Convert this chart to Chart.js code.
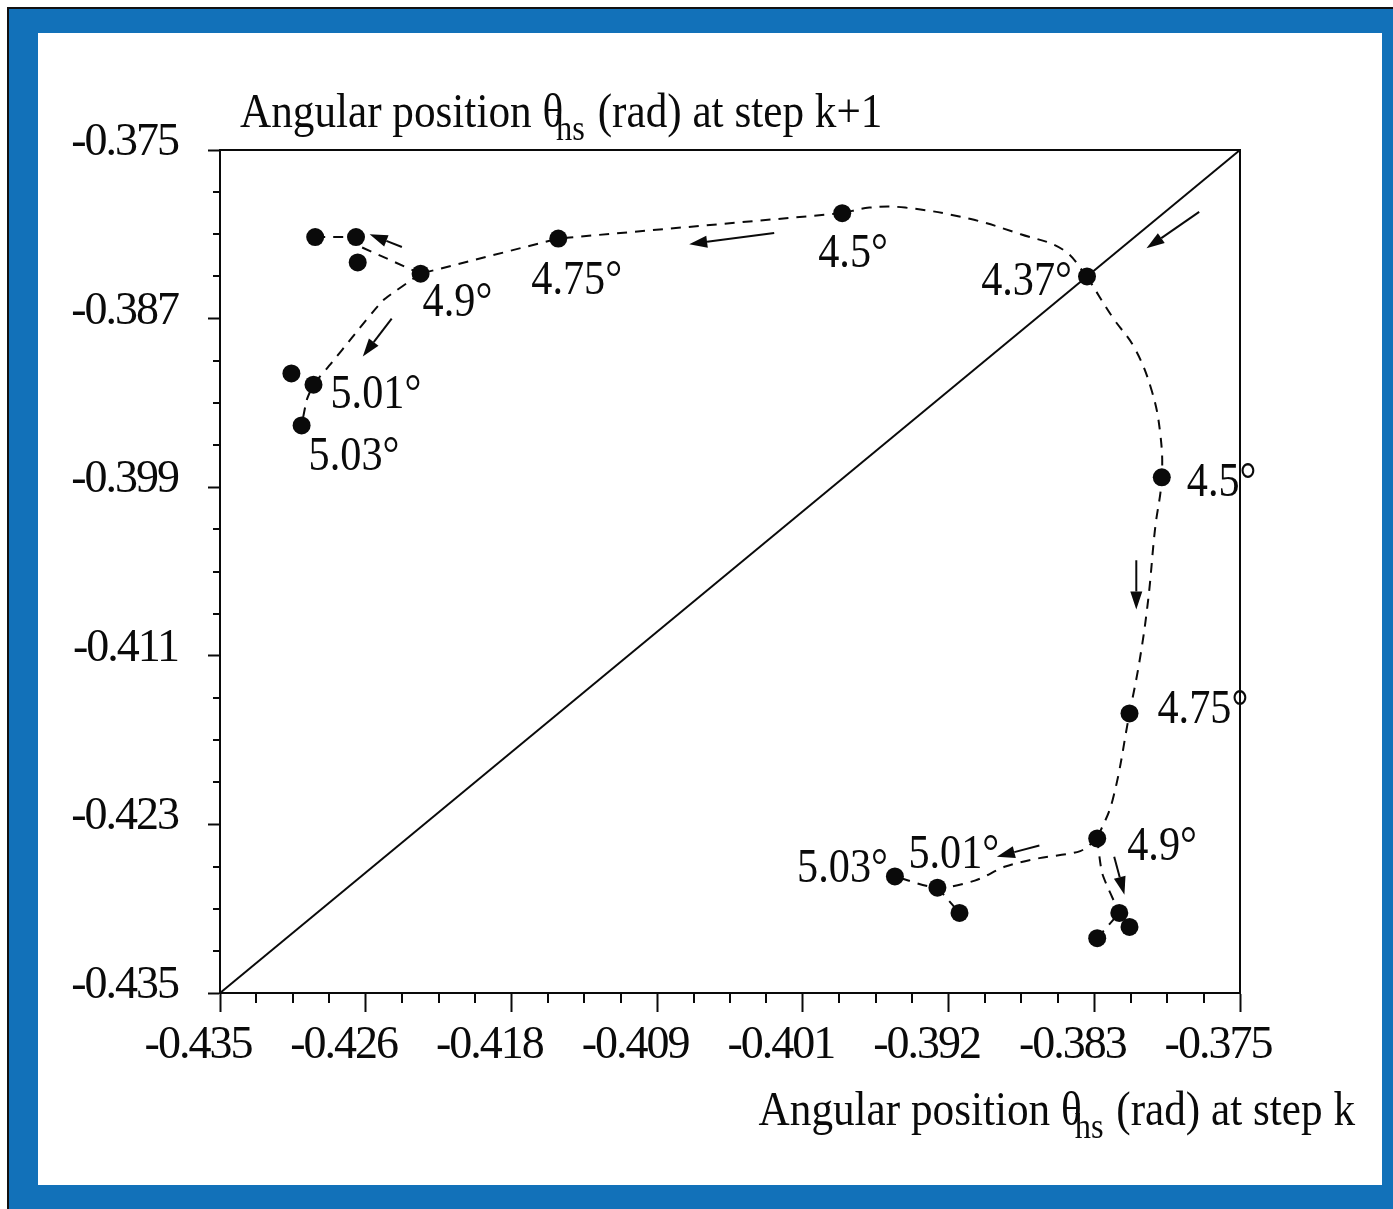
<!DOCTYPE html>
<html>
<head>
<meta charset="utf-8">
<title>Angular position return map</title>
<script src="https://cdn.jsdelivr.net/npm/chart.js@4.4.1/dist/chart.umd.min.js"></script>
<style>
  html, body { margin: 0; padding: 0; background: #fff; }
  #frame {
    position: absolute; left: 7px; top: 7px; width: 1386px; height: 1202px;
    background: #1271b9; border-left: 2px solid #111; border-top: 2px solid #111;
    box-sizing: border-box;
  }
  #paper { position: absolute; left: 38px; top: 33px; width: 1344px; height: 1152px; background: #fff; }
  canvas { display: block; }
</style>
</head>
<body>
<div id="frame"></div>
<div id="paper"><canvas id="map" width="1344" height="1152"></canvas></div>
<script>
// ---- axis ticks ----
const xTickValues = [-0.435, -0.42643, -0.41786, -0.40929, -0.40071, -0.39214, -0.38357, -0.375];
const xTickLabels = ['-0.435', '-0.426', '-0.418', '-0.409', '-0.401', '-0.392', '-0.383', '-0.375'];
const yTickValues = [-0.435, -0.423, -0.411, -0.399, -0.387, -0.375];
const yTickLabels = ['-0.435', '-0.423', '-0.411', '-0.399', '-0.387', '-0.375'];

// ---- fixed points of the map: theta(k) -> theta(k+1) ----
const upperX = [-0.3840, -0.3984, -0.4151, -0.4232, -0.4270, -0.4269, -0.4294, -0.4308, -0.4295, -0.4302];
const upperY = [-0.3840, -0.3795, -0.3813, -0.3838, -0.3812, -0.3830, -0.3812, -0.3909, -0.3917, -0.3946];
const upperSlope = ['4.37°', '4.5°', '4.75°', '4.9°', '', '', '', '', '5.01°', '5.03°'];

const lowerX = [-0.3796, -0.3815, -0.3834, -0.3821, -0.3815, -0.3834, -0.3928, -0.3915, -0.3953];
const lowerY = [-0.3983, -0.4151, -0.4240, -0.4293, -0.4303, -0.4311, -0.4275, -0.4293, -0.4267];
const lowerSlope = ['4.5°', '4.75°', '4.9°', '', '', '', '5.01°', '', '5.03°'];

// ---- dashed trajectories between the fixed points ----
const arcTopX = [-0.3840, -0.3854, -0.3879, -0.3909, -0.3947, -0.3968, -0.3984];
const arcTopY = [-0.3840, -0.3821, -0.3810, -0.3799, -0.3791, -0.3791, -0.3795];
const topRunX = [-0.3984, -0.4151, -0.4232];
const topRunY = [-0.3795, -0.3813, -0.3838];
const topForkX = [-0.4232, -0.4269];
const topForkY = [-0.3838, -0.3818];
const topPairX = [-0.4294, -0.4270];
const topPairY = [-0.3812, -0.3812];
const topDropX = [-0.4232, -0.4254, -0.4272, -0.4284, -0.4295, -0.4299, -0.4302];
const topDropY = [-0.3838, -0.3857, -0.3883, -0.3901, -0.3917, -0.3928, -0.3946];
const sideDropX = [-0.3840, -0.3825, -0.3812, -0.3802, -0.3797, -0.3796, -0.3800, -0.3804, -0.3809, -0.3815, -0.3825, -0.3834];
const sideDropY = [-0.3840, -0.3869, -0.3891, -0.3921, -0.3951, -0.3983, -0.4020, -0.4070, -0.4113, -0.4151, -0.4213, -0.4240];
const lowRunX = [-0.3834, -0.3844, -0.3868, -0.3888, -0.3906, -0.3928, -0.3953];
const lowRunY = [-0.4240, -0.4249, -0.4254, -0.4260, -0.4270, -0.4275, -0.4267];
const lowForkX = [-0.3834, -0.3831, -0.3821];
const lowForkY = [-0.4240, -0.4265, -0.4293];
const lowPairX = [-0.3834, -0.3821];
const lowPairY = [-0.4311, -0.4293];
const lowTailX = [-0.3928, -0.3915];
const lowTailY = [-0.4275, -0.4293];

// ---- direction arrows (tail -> head) ----
const arrowFromX = [-0.3774, -0.4024, -0.4243, -0.4249, -0.3811, -0.3868, -0.3824];
const arrowFromY = [-0.3794, -0.3809, -0.3819, -0.3870, -0.4042, -0.4245, -0.4253];
const arrowToX   = [-0.3805, -0.4074, -0.4262, -0.4266, -0.3811, -0.3893, -0.3818];
const arrowToY   = [-0.3820, -0.3817, -0.3810, -0.3897, -0.4077, -0.4253, -0.4280];

const AXIS_MIN = -0.435, AXIS_MAX = -0.375;

const SERIF = '"Liberation Serif", "Times New Roman", serif';
const INK = '#0a0a0a';
const zip = (xs, ys) => xs.map((x, i) => ({ x: x, y: ys[i] }));

// Times-like text, squeezed horizontally like the typeset figure
function squeezed(ctx, str, x, y, size, align, sx) {
  ctx.save();
  ctx.font = size + 'px ' + SERIF;
  ctx.textBaseline = 'alphabetic';
  ctx.fillStyle = INK;
  const w = ctx.measureText(str).width * sx;
  const left = align === 'right' ? x - w : (align === 'center' ? x - w / 2 : x);
  ctx.translate(left, y);
  ctx.scale(sx, 1);
  ctx.fillText(str, 0, 0);
  ctx.restore();
  return w;
}

function axisTitle(ctx, tail, x, y, align) {
  const sx = 0.9;
  const parts = [
    { t: 'Angular position θ', s: 48, dy: 0, kern: -7 },
    { t: 'hs', s: 36, dy: 13, kern: 2 },
    { t: ' (rad) at step ' + tail, s: 48, dy: 0, kern: 0 }
  ];
  ctx.save();
  let total = 0;
  parts.forEach(p => {
    ctx.font = p.s + 'px ' + SERIF;
    p.w = ctx.measureText(p.t).width * sx + p.kern;
    total += p.w;
  });
  ctx.restore();
  let cx = align === 'right' ? x - total : x;
  parts.forEach(p => { squeezed(ctx, p.t, cx, y + p.dy, p.s, 'left', sx); cx += p.w; });
}

// label placement around each marked point: [dx, dy, align]
const upperLabelPos = {
  0: [-15, 19, 'right'], 1: [-24, 54, 'left'], 2: [-27, 55, 'left'], 3: [2, 42, 'left'],
  8: [17, 23, 'left'], 9: [7, 45, 'left']
};
const lowerLabelPos = {
  0: [25, 19, 'left'], 1: [28, 10, 'left'], 2: [30, 22, 'left'], 6: [-29, -20, 'left'], 8: [-7, 6, 'right']
};

const decorations = {
  id: 'decorations',
  beforeDraw(chart) {
    chart.ctx.letterSpacing = '-2px';
  },
  beforeDatasetsDraw(chart) {
    const { ctx, chartArea: a, scales: { x, y } } = chart;
    ctx.save();
    ctx.letterSpacing = '0px';
    ctx.strokeStyle = INK;
    ctx.lineWidth = 2;
    // frame top and right
    ctx.beginPath();
    ctx.moveTo(a.left, a.top); ctx.lineTo(a.right, a.top); ctx.lineTo(a.right, a.bottom);
    ctx.stroke();
    // minor ticks
    ctx.beginPath();
    const xStep = (AXIS_MAX - AXIS_MIN) / 28;
    for (let i = 1; i < 28; i++) {
      if (i % 4 === 0) continue;
      const px = Math.round(x.getPixelForValue(AXIS_MIN + i * xStep));
      ctx.moveTo(px, a.bottom); ctx.lineTo(px, a.bottom + 10);
    }
    const yStep = 0.003;
    for (let i = 1; i < 20; i++) {
      if (i % 4 === 0) continue;
      const py = Math.round(y.getPixelForValue(AXIS_MIN + i * yStep));
      ctx.moveTo(a.left, py); ctx.lineTo(a.left - 7, py);
    }
    ctx.stroke();
    ctx.restore();
  },
  afterDraw(chart) {
    const { ctx, chartArea: a, scales: { x, y } } = chart;
    ctx.save();
    ctx.letterSpacing = '0px';
    // arrows
    ctx.strokeStyle = INK; ctx.fillStyle = INK; ctx.lineWidth = 2;
    for (let i = 0; i < arrowFromX.length; i++) {
      const x0 = x.getPixelForValue(arrowFromX[i]), y0 = y.getPixelForValue(arrowFromY[i]);
      const x1 = x.getPixelForValue(arrowToX[i]), y1 = y.getPixelForValue(arrowToY[i]);
      const ang = Math.atan2(y1 - y0, x1 - x0);
      const L = 18, W = 6;
      const bx = x1 - L * Math.cos(ang), by = y1 - L * Math.sin(ang);
      ctx.beginPath(); ctx.moveTo(x0, y0); ctx.lineTo(bx, by); ctx.stroke();
      ctx.beginPath();
      ctx.moveTo(x1, y1);
      ctx.lineTo(bx + W * Math.sin(ang), by - W * Math.cos(ang));
      ctx.lineTo(bx - W * Math.sin(ang), by + W * Math.cos(ang));
      ctx.closePath(); ctx.fill();
    }
    // slope labels
    const put = (xs, ys, texts, pos) => {
      texts.forEach((t, i) => {
        if (!t) return;
        const p = pos[i];
        squeezed(ctx, t, x.getPixelForValue(xs[i]) + p[0], y.getPixelForValue(ys[i]) + p[1], 48, p[2], 0.88);
      });
    };
    put(upperX, upperY, upperSlope, upperLabelPos);
    put(lowerX, lowerY, lowerSlope, lowerLabelPos);
    // axis titles
    axisTitle(ctx, 'k+1', a.left + 20, a.top - 23, 'left');
    axisTitle(ctx, 'k', a.right + 115, a.bottom + 132, 'right');
    ctx.restore();
  }
};

const dashed = (data, tension) => ({
  data: data, showLine: true, borderColor: INK, borderWidth: 2, borderDash: [10, 8],
  pointRadius: 0, tension: tension, order: 5
});

const tickStyle = { family: SERIF, size: 46 };

new Chart(document.getElementById('map'), {
  type: 'scatter',
  data: {
    datasets: [
      { data: zip(upperX, upperY), pointRadius: 9, pointBackgroundColor: INK, pointBorderWidth: 0, order: 0 },
      { data: zip(lowerX, lowerY), pointRadius: 9, pointBackgroundColor: INK, pointBorderWidth: 0, order: 0 },
      { data: zip([AXIS_MIN, AXIS_MAX], [AXIS_MIN, AXIS_MAX]), showLine: true, borderColor: INK, borderWidth: 2, pointRadius: 0, order: 4 },
      dashed(zip(arcTopX, arcTopY), 0.4),
      dashed(zip(topRunX, topRunY), 0),
      dashed(zip(topForkX, topForkY), 0),
      dashed(zip(topPairX, topPairY), 0),
      dashed(zip(topDropX, topDropY), 0.15),
      dashed(zip(sideDropX, sideDropY), 0.4),
      dashed(zip(lowRunX, lowRunY), 0.3),
      dashed(zip(lowForkX, lowForkY), 0.2),
      dashed(zip(lowPairX, lowPairY), 0),
      dashed(zip(lowTailX, lowTailY), 0)
    ]
  },
  options: {
    responsive: false,
    animation: false,
    devicePixelRatio: 1,
    layout: { padding: { left: 0, top: 117, right: 142, bottom: 0 } },
    plugins: { legend: { display: false }, tooltip: { enabled: false } },
    scales: {
      x: {
        type: 'linear', min: AXIS_MIN, max: AXIS_MAX,
        afterBuildTicks: s => { s.ticks = xTickValues.map(v => ({ value: v })); },
        afterFit: s => { s.height = 192; },
        ticks: {
          callback: (v, i) => xTickLabels[i], color: INK, font: tickStyle,
          padding: 6, labelOffset: -22, maxRotation: 0, autoSkip: false
        },
        grid: { drawOnChartArea: false, drawTicks: true, tickLength: 19, tickColor: INK, tickWidth: 2 },
        border: { display: true, color: INK, width: 2 }
      },
      y: {
        type: 'linear', min: AXIS_MIN, max: AXIS_MAX,
        afterBuildTicks: s => { s.ticks = yTickValues.map(v => ({ value: v })); },
        afterFit: s => { s.width = 182; },
        ticks: {
          callback: (v, i) => yTickLabels[i], color: INK, font: tickStyle,
          padding: 30, labelOffset: -7, autoSkip: false
        },
        grid: { drawOnChartArea: false, drawTicks: true, tickLength: 12, tickColor: INK, tickWidth: 2 },
        border: { display: true, color: INK, width: 2 }
      }
    }
  },
  plugins: [decorations]
});
</script>
</body>
</html>
